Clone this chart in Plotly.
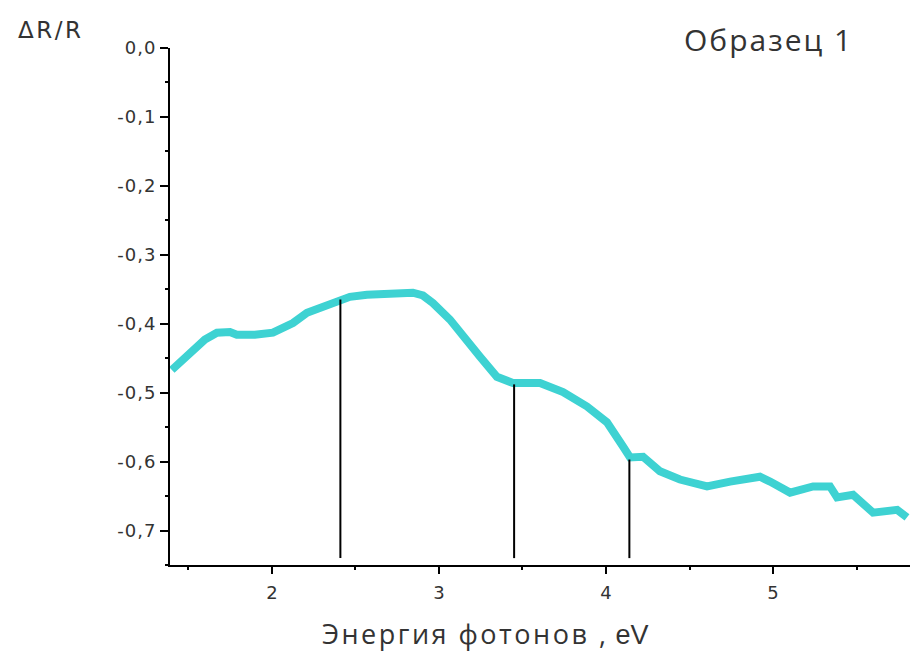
import plotly.graph_objects as go

# Photon energy (eV) and relative reflectance change for sample 1
energy = [1.401, 1.509, 1.599, 1.671, 1.749, 1.790, 1.898, 2.006, 2.126, 2.210,
          2.299, 2.389, 2.467, 2.569, 2.707, 2.844, 2.904, 2.964, 3.066, 3.156,
          3.246, 3.347, 3.443, 3.605, 3.743, 3.886, 4.006, 4.102, 4.144, 4.222,
          4.323, 4.443, 4.605, 4.743, 4.922, 4.982, 5.102, 5.240, 5.341, 5.383,
          5.479, 5.599, 5.743, 5.802]
dR_R = [-0.467, -0.442, -0.423, -0.413, -0.412, -0.416, -0.416, -0.413, -0.399, -0.384,
        -0.375, -0.368, -0.361, -0.358, -0.357, -0.355, -0.359, -0.370, -0.394, -0.423,
        -0.448, -0.477, -0.486, -0.486, -0.499, -0.520, -0.543, -0.578, -0.594, -0.593,
        -0.614, -0.626, -0.636, -0.629, -0.622, -0.629, -0.645, -0.636, -0.636, -0.652,
        -0.648, -0.674, -0.670, -0.681]

# Marked transition energies and the curve level at each
marker_energy = [2.41, 3.45, 4.14]
marker_top = [-0.365, -0.488, -0.597]
marker_bottom = -0.74

x_tickvals = [2, 3, 4, 5]
x_ticktext = ["2", "3", "4", "5"]
y_tickvals = [0.0, -0.1, -0.2, -0.3, -0.4, -0.5, -0.6, -0.7]
y_ticktext = ["0,0", "-0,1", "-0,2", "-0,3", "-0,4", "-0,5", "-0,6", "-0,7"]


def spaced(text, px):
    """Wrap text in a span with extra letter spacing."""
    return f"<span style='letter-spacing:{px}px'>{text}</span>"


fig = go.Figure()

fig.add_trace(go.Scatter(
    x=energy, y=dR_R, mode="lines",
    line=dict(color="#3ED2D2", width=8),
    showlegend=False, hoverinfo="skip",
))

for xe, yt in zip(marker_energy, marker_top):
    fig.add_trace(go.Scatter(
        x=[xe, xe], y=[marker_bottom, yt], mode="lines",
        line=dict(color="black", width=2),
        showlegend=False, hoverinfo="skip",
    ))

tick_font = dict(family="DejaVu Sans, sans-serif", size=18, color="#333333")

fig.update_layout(
    width=910, height=653,
    margin=dict(l=170, r=0, t=48, b=88),
    paper_bgcolor="white", plot_bgcolor="white",
    xaxis=dict(
        range=[1.39, 5.82], showgrid=False, zeroline=False,
        showline=True, linecolor="black", linewidth=2,
        ticks="outside", ticklen=7, tickwidth=2, tickcolor="black",
        tickvals=x_tickvals, ticktext=x_ticktext,
        tickfont=tick_font, ticklabelstandoff=3,
        minor=dict(dtick=0.5, tick0=1.5, ticks="outside", ticklen=3,
                   tickwidth=2, tickcolor="black", showgrid=False),
    ),
    yaxis=dict(
        range=[-0.75, 0.0], showgrid=False, zeroline=False,
        showline=True, linecolor="black", linewidth=2,
        ticks="outside", ticklen=8, tickwidth=2, tickcolor="black",
        tickvals=y_tickvals, ticktext=[spaced(t, 1) for t in y_ticktext],
        tickfont=tick_font, ticklabelstandoff=0,
        minor=dict(dtick=0.05, tick0=-0.05, ticks="outside", ticklen=3,
                   tickwidth=2, tickcolor="black", showgrid=False),
    ),
    annotations=[
        dict(text=spaced("ΔR/R", 2.5), xref="paper", yref="paper", x=-0.161, y=1.034,
             xanchor="center", yanchor="middle", showarrow=False,
             font=dict(family="DejaVu Sans, sans-serif", size=23, color="#333333")),
        dict(text=spaced("Образец 1", 2), xref="paper", yref="paper", x=0.809, y=1.017,
             xanchor="center", yanchor="middle", showarrow=False,
             font=dict(family="Open Sans, Noto Sans, sans-serif", size=30, color="#333333")),
        dict(text=spaced("Энергия фотонов ,", 2.5)
             + " <span style='font-family:Liberation Sans'>eV</span>",
             xref="paper", yref="paper", x=0.426, y=-0.133,
             xanchor="center", yanchor="middle", showarrow=False,
             font=dict(family="Open Sans, Noto Sans, sans-serif", size=27, color="#333333")),
    ],
)

fig.write_html("out.html")
